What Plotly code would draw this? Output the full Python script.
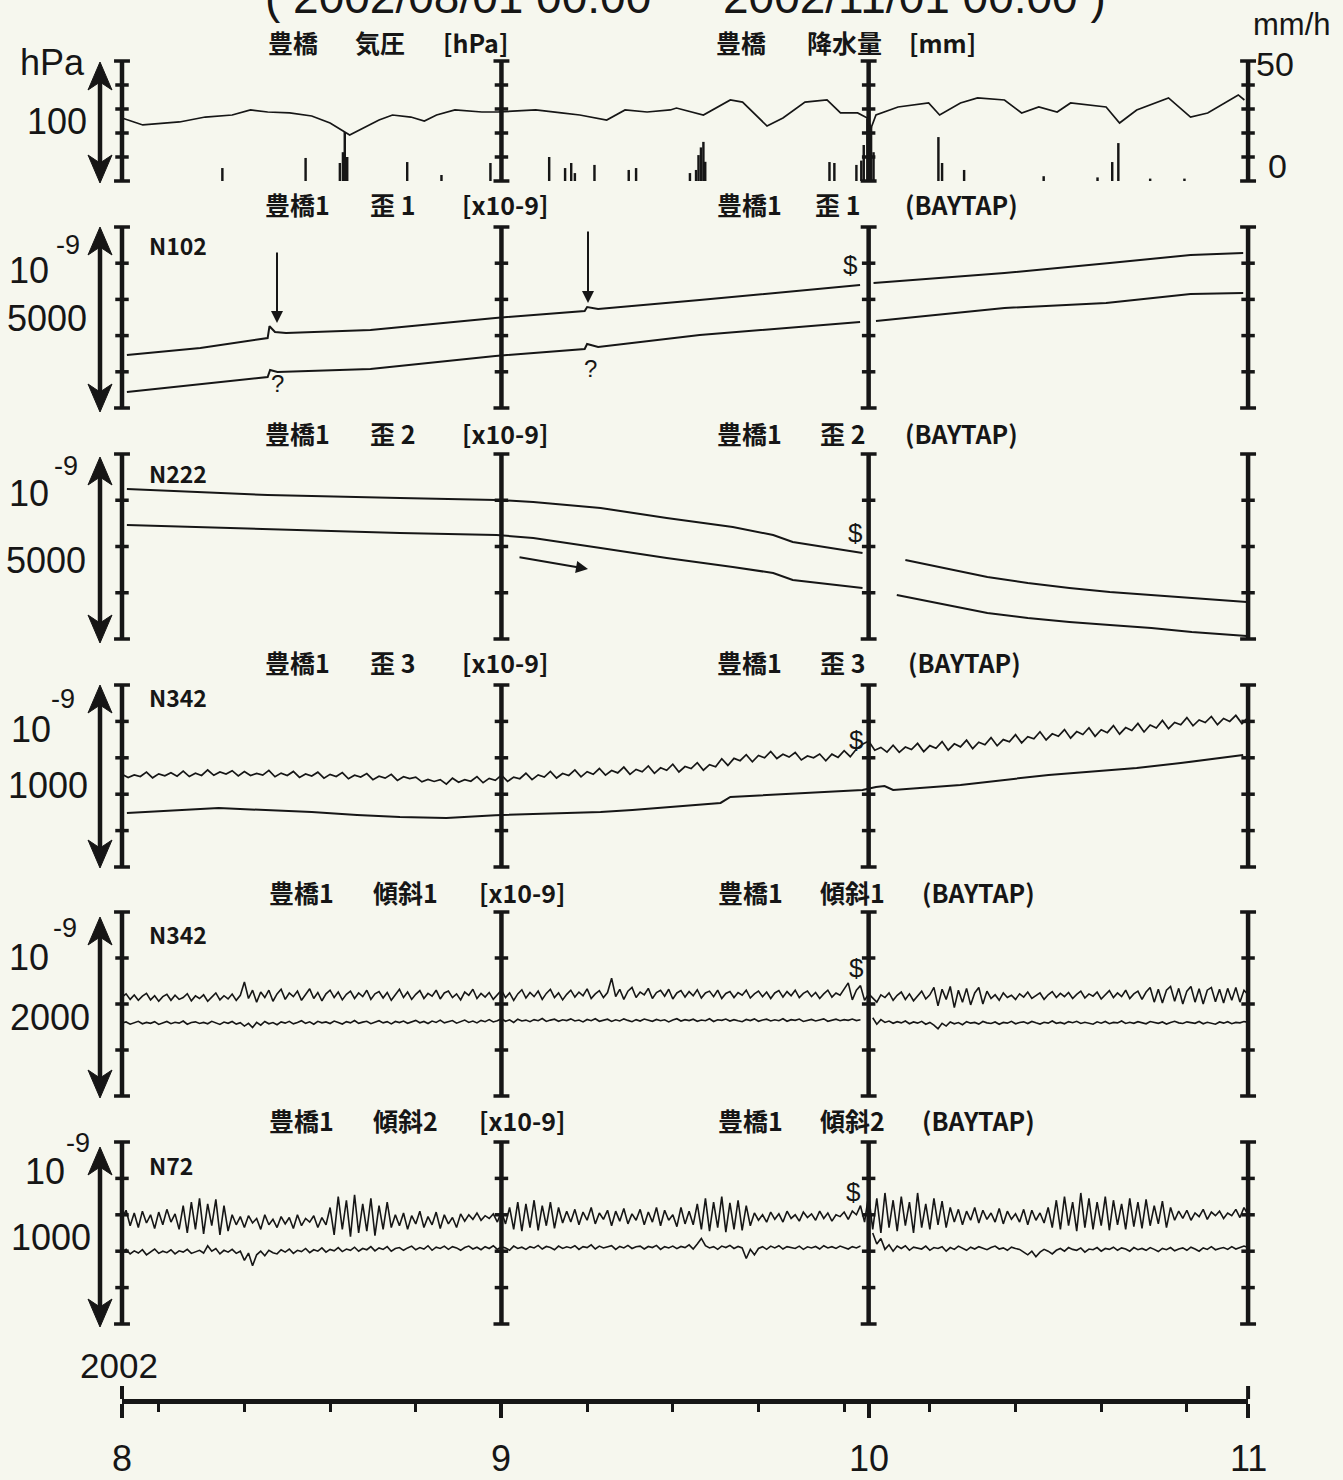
import plotly.graph_objects as go

W, H = 1343, 1480
BG = "#f6f7ee"
INK = "#161616"
LAT = "Liberation Sans, Arial, DejaVu Sans, sans-serif"
CJK = "Noto Sans CJK JP, Noto Sans CJK SC, sans-serif"

# ---------------- time axis (days since 2002-08-01) ----------------
MONTH_DAYS = [0, 31, 61, 92]
MONTH_LABELS = ["8", "9", "10", "11"]
WEEK_DAYS = [3, 10, 17, 24, 38, 45, 52, 59, 66, 73, 80, 87]
YEAR_LABEL = "2002"

# ---------------- panel 1 : pressure [hPa] and rain [mm/h] ----------------
pres_day = [0.0, 1.7, 4.7, 6.8, 9.0, 10.5, 11.9, 13.7, 15.5, 17.0, 18.6, 19.9, 21.0, 22.1,
            23.6, 24.7, 25.7, 27.2, 29.4, 30.7, 33.8, 35.9, 37.4, 39.6, 41.1, 42.9, 44.8,
            45.3, 47.5, 49.7, 50.7, 52.7, 54.0, 55.8, 57.6, 58.7, 60.1, 60.9, 61.2, 61.6,
            63.4, 65.9, 66.8, 68.5, 69.9, 72.1, 73.5, 74.9, 76.4, 77.5, 80.4, 81.5, 82.9,
            85.5, 87.3, 88.7, 90.1, 91.2, 91.7]
pres_hpa = [1002.5, 996.7, 999.2, 1003.3, 1005.0, 1009.2, 1007.5, 1006.7, 1004.2, 998.3,
            988.3, 995.0, 1000.8, 1005.0, 1003.3, 1000.0, 1005.0, 1009.2, 1007.5, 1007.5,
            1009.2, 1006.7, 1005.0, 1000.8, 1009.2, 1007.5, 1009.2, 1010.8, 1005.0, 1017.5,
            1015.8, 995.8, 1002.5, 1015.8, 1017.5, 1006.7, 1006.7, 1002.5, 994.2, 1005.0,
            1011.7, 1015.0, 1005.0, 1015.0, 1019.2, 1017.5, 1006.7, 1011.7, 1007.5, 1015.0,
            1011.7, 998.3, 1009.2, 1019.2, 1003.3, 1006.7, 1015.0, 1021.7, 1017.5]
rain_day = [8.2, 15.0, 17.8, 18.05, 18.2, 18.4, 23.3, 26.1, 30.1, 31.0, 34.9, 36.2, 36.7,
            37.0, 38.6, 41.4, 42.0, 46.4, 46.9, 47.1, 47.3, 47.5, 47.65, 57.8, 58.2, 60.0,
            60.4, 60.6, 60.9, 61.05, 61.2, 61.4, 66.7, 67.0, 68.8, 75.3, 79.7, 80.9, 81.4,
            84.0, 86.8]
rain_mm = [5.4, 9.6, 7.5, 12.0, 20.4, 10.0, 7.9, 2.5, 7.5, 8.0, 10.0, 5.4, 7.5, 3.3, 6.7,
           4.6, 5.4, 3.3, 4.6, 10.8, 14.0, 16.3, 8.0, 7.9, 7.5, 6.7, 8.5, 15.0, 26.0, 18.0,
           22.5, 12.0, 18.3, 7.5, 4.6, 2.0, 1.5, 7.9, 15.8, 1.0, 1.0]

# ---------------- panel 2 : strain 1 [x10-9] ----------------
s1a_day = [0.4, 6.4, 11.9, 12.05, 12.5, 13.4, 20.3, 30.5, 37.8, 38.0, 38.9, 47.2, 60.3,
           61.0, 61.4, 72.1, 80.7, 87.3, 91.6]
s1a_val = [1464, 1657, 1933, 2260, 2100, 2071, 2154, 2486, 2680, 2790, 2734, 2983, 3397,
           None, 3452, 3729, 4005, 4226, 4281]
s1b_day = [0.4, 11.9, 12.1, 12.7, 20.3, 30.5, 37.8, 38.0, 38.9, 47.2, 60.3, 61.0, 61.6,
           72.1, 80.4, 87.3, 91.6]
s1b_val = [442, 856, 1050, 994, 1077, 1436, 1630, 1768, 1685, 2016, 2375, None, 2403,
           2762, 2900, 3149, 3176]

# ---------------- panel 3 : strain 2 [x10-9] ----------------
s2a_day = [0.4, 11.9, 22.7, 30.6, 33.6, 39.1, 44.5, 49.9, 53.2, 54.8, 60.5, 62.0, 64.0,
           67.3, 70.7, 74.0, 77.4, 80.7, 84.1, 87.4, 91.9]
s2a_val = [4055, 3892, 3811, 3757, 3703, 3541, 3271, 3027, 2811, 2622, 2325, None, 2135,
           1919, 1676, 1514, 1379, 1270, 1189, 1108, 1000]
s2b_day = [0.4, 22.7, 30.6, 33.6, 39.1, 44.5, 49.9, 53.2, 54.8, 60.5, 62.0, 63.3, 67.3,
           70.7, 74.0, 77.4, 80.7, 84.1, 87.4, 91.9]
s2b_val = [3081, 2865, 2811, 2730, 2460, 2189, 1946, 1784, 1595, 1378, None, 1189, 919,
           703, 568, 460, 378, 297, 189, 81]

# ---------------- panel 4 : strain 3 [x10-9] ----------------
s3a_val = [510, 492, 506, 497, 521, 490, 512, 501, 518, 499, 527, 497, 515, 503, 533, 504, 522, 511, 529, 500,
           524, 503, 514, 505, 531, 496, 516, 503, 525, 492, 511, 500, 521, 488, 509, 497, 519, 485, 504, 494,
           513, 480, 499, 488, 509, 476, 496, 486, 494, 468, 481, 470, 480, 455, 488, 466, 480, 471, 497, 463,
           487, 476, 505, 470, 494, 485, 515, 480, 506, 494, 525, 489, 514, 503, 533, 495, 524, 509, 541, 505,
           530, 517, 549, 509, 536, 523, 555, 515, 545, 531, 565, 522, 552, 541, 573, 532, 562, 551, 595, 558,
           597, 584, 617, 578, 613, 600, 635, 596, 619, 604, 629, 588, 610, 600, 621, 584, 620, 602, 639, 606,
           648, 675, 692, 642, 657, 631, 669, 630, 659, 645, 679, 634, 667, 652, 689, 642, 677, 660, 697, 650,
           686, 672, 711, 666, 700, 688, 727, 682, 716, 704, 743, 698, 732, 718, 755, 708, 744, 728, 765, 718,
           754, 738, 777, 730, 766, 750, 789, 742, 780, 764, 805, 760, 794, 782, 821, 776, 808, 794, 827, 782,
           816, 800, 833, 788, 822]
s3b_day = [0.4, 7.5, 7.9, 15.5, 19.2, 22.7, 26.5, 30.5, 39.1, 41.7, 47.2, 48.9, 49.7, 55.4,
           60.5, 61.6, 62.3, 63.0, 68.5, 75.7, 82.9, 86.5, 91.6]
s3b_val = [297, 319, 324, 302, 286, 275, 269, 285, 302, 313, 341, 352, 385, 407, 423, 440,
           445, 423, 451, 506, 544, 571, 615]

# ---------------- panel 5 : tilt 1 [x10-9] ----------------
t1a_val = [1076, 1110, 1050, 1098, 1040, 1085, 1115, 1045, 1090, 1030,
           1080, 1105, 1040, 1095, 1050, 1070, 1112, 1035, 1088, 1060,
           1100, 1030, 1075, 1120, 1045, 1090, 1055, 1108, 1040, 1095,
           1240, 1060, 1150, 1020, 1130, 1070, 1150, 1030, 1110, 1160,
           1050, 1120, 1080, 1140, 1040, 1100, 1165, 1060, 1125, 1035,
           1110, 1150, 1070, 1130, 1045, 1105, 1140, 1060, 1120, 1080,
           1150, 1050, 1110, 1135, 1065, 1125, 1040, 1100, 1160, 1070,
           1130, 1050, 1105, 1145, 1060, 1115, 1085, 1150, 1055, 1120,
           1140, 1070, 1110, 1045, 1130, 1095, 1160, 1060, 1115, 1075,
           1125, 1050, 1100, 1150, 1070, 1120, 1040, 1110, 1155, 1065,
           1125, 1080, 1140, 1050, 1115, 1160, 1070, 1120, 1045, 1105,
           1150, 1075, 1130, 1090, 1165, 1060, 1110, 1145, 1070, 1125,
           1280, 1080, 1160, 1050, 1140, 1180, 1070, 1130, 1100, 1170,
           1060, 1125, 1150, 1085, 1160, 1055, 1120, 1145, 1075, 1135,
           1090, 1155, 1065, 1120, 1140, 1080, 1150, 1060, 1115, 1135,
           1070, 1125, 1095, 1150, 1065, 1110, 1140, 1080, 1130, 1060,
           1120, 1145, 1075, 1135, 1090, 1150, 1070, 1115, 1140, 1080,
           1125, 1060, 1110, 1150, 1075, 1120, 1095, 1160, 1230, 1045,
           1150, 1200, 1040, 1110, 1060, 1020, 1100, 1070, 1120, 1040,
           1095, 1130, 1050, 1110, 1035, 1085, 1140, 1055, 1100, 1180,
           980, 1160, 1050, 1190, 960, 1150, 1020, 1170, 990, 1120,
           1180, 1000, 1140, 1060, 1100, 1040, 1120, 1070, 1095, 1050,
           1110, 1075, 1130, 1060, 1090, 1120, 1050, 1100, 1135, 1070,
           1115, 1080, 1125, 1060, 1105, 1140, 1065, 1110, 1085, 1130,
           1055, 1100, 1145, 1070, 1120, 1080, 1150, 1060, 1110, 1140,
           1050, 1130, 1180, 1020, 1160, 1010, 1150, 1190, 1030, 1170,
           1000, 1140, 1190, 1020, 1165, 1000, 1150, 1180, 1025, 1160,
           1010, 1170, 1040, 1180, 1020, 1150, 1100]
t1b_val = [793, 805, 780, 798, 812, 785, 800, 790, 808, 778,
           795, 810, 786, 802, 792, 815, 780, 798, 806, 788,
           800, 785, 812, 795, 778, 804, 790, 810, 782, 797,
           760, 790, 745, 800, 770, 810, 785, 798, 775, 805,
           792, 812, 784, 800, 818, 790, 806, 780, 812, 795,
           805, 788, 815, 798, 782, 808, 795, 820, 790, 803,
           812, 786, 800, 818, 795, 808, 784, 810, 798, 815,
           790, 805, 822, 796, 810, 788, 815, 800, 825, 795,
           808, 820, 792, 812, 826, 800, 815, 795, 822, 808,
           830, 805, 818, 840, 812, 828, 800, 835, 815, 825,
           808, 830, 818, 842, 810, 825, 835, 812, 828, 820,
           838, 815, 826, 805, 832, 818, 840, 812, 825, 835,
           810, 828, 816, 838, 822, 808, 830, 815, 836, 820,
           812, 832, 818, 828, 805, 825, 840, 815, 830, 820,
           835, 812, 826, 818, 840, 810, 828, 822, 836, 815,
           830, 818, 808, 832, 820, 838, 812, 826, 835, 815,
           828, 818, 840, 812, 830, 822, 836, 810, 825, 832,
           815, 828, 838, 812, 826, 835, 818, 830, 822, 836,
           820, 828, None, None, 850, 780, 830, 800, 815, 790,
           808, 795, 815, 785, 805, 792, 812, 780, 800, 770,
           730, 790, 760, 805, 785, 798, 775, 808, 792, 800,
           782, 810, 795, 788, 805, 780, 800, 792, 812, 785,
           798, 806, 788, 810, 795, 782, 802, 792, 815, 790,
           800, 785, 808, 796, 812, 788, 802, 795, 780, 806,
           792, 810, 786, 800, 795, 815, 788, 802, 790, 808,
           796, 785, 810, 798, 790, 805, 782, 800, 812, 795,
           788, 806, 798, 790, 810, 785, 802, 795, 780, 805,
           792, 808, 786, 800, 795, 810, 800]

# ---------------- panel 6 : tilt 2 [x10-9] ----------------
t2a_val = [580, 625, 540, 610, 530, 620, 555, 600, 525, 615,
           545, 630, 560, 605, 520, 650, 500, 670, 520, 690,
           495, 660, 540, 685, 490, 650, 510, 600, 545, 590,
           530, 595, 555, 580, 520, 600, 545, 575, 530, 590,
           550, 585, 525, 600, 540, 580, 560, 595, 530, 585,
           545, 640, 490, 700, 520, 680, 480, 710, 500, 660,
           510, 690, 485, 650, 520, 670, 530, 600, 540, 610,
           520, 595, 550, 620, 530, 590, 545, 615, 525, 600,
           550, 585, 530, 605, 565, 600, 575, 610, 570, 595,
           580, 605, 560, 620, 550, 640, 520, 670, 510, 660,
           530, 680, 515, 650, 540, 670, 525, 640, 555, 620,
           560, 630, 545, 615, 570, 640, 550, 610, 575, 625,
           540, 620, 565, 635, 550, 605, 570, 630, 545, 615,
           560, 640, 540, 625, 570, 600, 535, 640, 550, 620,
           545, 660, 520, 690, 510, 670, 530, 700, 505, 665,
           520, 680, 515, 650, 540, 610, 570, 600, 560, 615,
           575, 605, 560, 620, 580, 600, 565, 615, 585, 605,
           570, 620, 580, 610, 565, 600, 590, 615, 575, 620,
           600, 650, 560, 710, 520, 690, 500, 720, 530, 680,
           510, 700, 540, 670, 500, 720, 530, 660, 520, 690,
           545, 675, 530, 640, 560, 630, 545, 620, 570, 640,
           555, 625, 575, 610, 560, 635, 550, 620, 575, 605,
           560, 630, 545, 625, 570, 610, 555, 640, 530, 680,
           520, 700, 540, 670, 510, 720, 530, 690, 520, 670,
           540, 700, 515, 680, 545, 660, 520, 690, 535, 670,
           525, 685, 540, 650, 550, 675, 530, 640, 570, 620,
           580, 625, 570, 610, 590, 630, 575, 615, 595, 620,
           580, 610, 595, 630, 585, 640, 600]
t2b_val = [395, 410, 385, 402, 390, 408, 380, 398, 412, 388,
           400, 392, 408, 385, 402, 395, 410, 388, 398, 405,
           390, 430, 400, 415, 385, 405, 395, 410, 388, 400,
           350, 390, 320, 380, 400, 375, 405, 392, 385, 408,
           395, 412, 388, 405, 398, 415, 392, 408, 400, 418,
           395, 410, 402, 420, 398, 412, 405, 422, 400, 415,
           408, 425, 402, 418, 410, 425, 400, 415, 420, 405,
           418, 428, 408, 420, 412, 430, 405, 422, 415, 428,
           410, 425, 418, 405, 420, 428, 412, 422, 408, 425,
           415, 430, 410, 425, 418, 405, 428, 415, 422, 410,
           425, 418, 432, 412, 426, 420, 408, 428, 415, 424,
           418, 430, 410, 425, 420, 435, 412, 428, 418, 422,
           430, 410, 426, 418, 432, 415, 424, 428, 412, 426,
           420, 432, 410, 425, 418, 428, 414, 426, 420, 435,
           412, 440, 470, 430, 418, 425, 410, 428, 420, 432,
           415, 426, 418, 360, 410, 380, 415, 425, 410, 428,
           418, 430, 412, 425, 420, 415, 428, 410, 424, 418,
           426, 412, 430, 418, 425, 415, 428, 420, 412, 425,
           418, 428, None, None, 500, 440, 470, 410, 435, 400,
           428, 415, 430, 405, 422, 418, 412, 428, 405, 420,
           415, 425, 400, 420, 410, 428, 415, 405, 422, 412,
           425, 415, 408, 420, 428, 412, 418, 405, 422, 415,
           410, 395, 380, 400, 370, 395, 410, 400, 385, 405,
           415, 400, 420, 410, 405, 418, 395, 412, 408, 420,
           400, 415, 410, 422, 405, 418, 412, 400, 420, 408,
           415, 405, 420, 410, 398, 415, 408, 420, 402, 412,
           418, 405, 422, 412, 400, 418, 410, 425, 408, 415,
           420, 410, 425, 412, 418, 428, 420]


# sampling times of the densely sampled traces
def grid(n, per_day):
    return [k / per_day for k in range(n)]


# ---------------- page geometry ----------------
X0, PXD = 122.0, 12.24          # pixel of day 0, pixels per day


def PX(px):
    return px / W


def PY(py):
    return 1 - py / H


PAD = 8
panels = [  # top px, bottom px, value at bottom, value at top, tick values
    dict(T=61, B=181, lo=950, hi=1050, ticks=[950, 970, 990, 1010, 1030, 1050]),
    dict(T=227, B=408, lo=0, hi=5000, ticks=[0, 1000, 2000, 3000, 4000, 5000]),
    dict(T=454, B=639, lo=0, hi=5000, ticks=[0, 1250, 2500, 3750, 5000]),
    dict(T=685, B=867, lo=0, hi=1000, ticks=[0, 200, 400, 600, 800, 1000]),
    dict(T=912, B=1096, lo=0, hi=2000, ticks=[0, 500, 1000, 1500, 2000]),
    dict(T=1142, B=1324, lo=0, hi=1000, ticks=[0, 200, 400, 600, 800, 1000]),
]

fig = go.Figure()
layout = dict(
    width=W, height=H, autosize=False,
    margin=dict(l=0, r=0, t=0, b=0),
    paper_bgcolor=BG, plot_bgcolor="rgba(0,0,0,0)",
    showlegend=False,
    xaxis=dict(domain=[0, 1], range=[-X0 / PXD, (W - X0) / PXD], visible=False,
               fixedrange=True),
)
shapes = []
annotations = []

for i, p in enumerate(panels):
    k = (p["hi"] - p["lo"]) / (p["B"] - p["T"])
    name = "yaxis" if i == 0 else f"yaxis{i + 1}"
    layout[name] = dict(domain=[PY(p["B"] + PAD), PY(p["T"] - PAD)],
                        range=[p["lo"] - PAD * k, p["hi"] + PAD * k],
                        visible=False, fixedrange=True, anchor="x")
    yref = "y" if i == 0 else f"y{i + 1}"
    for d in MONTH_DAYS:
        shapes.append(dict(type="line", xref="x", yref=yref, x0=d, x1=d,
                           y0=p["lo"], y1=p["hi"], line=dict(color=INK, width=4.5)))
        for t in p["ticks"]:
            hw = 0.65 if t in (p["lo"], p["hi"]) else 0.55
            shapes.append(dict(type="line", xref="x", yref=yref, x0=d - hw, x1=d + hw,
                               y0=t, y1=t, line=dict(color=INK, width=3.5)))

# rain axis overlays panel 1
p1 = panels[0]
kr = 50 / (p1["B"] - p1["T"])
layout["yaxis7"] = dict(overlaying="y", range=[0 - PAD * kr, 50 + PAD * kr],
                        visible=False, fixedrange=True, anchor="x")
# bottom time axis
layout["yaxis8"] = dict(domain=[PY(1399), PY(1392)], range=[0, 1], visible=False,
                        fixedrange=True)
layout["xaxis2"] = dict(domain=[PX(X0), PX(X0 + 92 * PXD)], range=[0, 92], anchor="y8",
                        showline=True, linecolor=INK, linewidth=4.5, showgrid=False,
                        zeroline=False, ticks="outside", tickmode="array",
                        tickvals=MONTH_DAYS, ticklen=14, tickwidth=4, tickcolor=INK,
                        showticklabels=False, fixedrange=True,
                        minor=dict(tickmode="array", tickvals=WEEK_DAYS, ticks="outside",
                                   ticklen=8, tickwidth=3, tickcolor=INK, showgrid=False))
for d in (MONTH_DAYS[0], MONTH_DAYS[-1]):
    shapes.append(dict(type="line", xref="x", yref="paper", x0=d, x1=d,
                       y0=PY(1386), y1=PY(1399), line=dict(color=INK, width=4)))

fig.add_trace(go.Scatter(x=[0], y=[0.5], xaxis="x2", yaxis="y8", mode="markers",
                         marker=dict(opacity=0), hoverinfo="skip"))


def line(x, y, yref, w=2.0):
    fig.add_trace(go.Scatter(x=x, y=y, xaxis="x", yaxis=yref, mode="lines",
                             line=dict(color=INK, width=w), connectgaps=False,
                             hoverinfo="skip"))


fig.add_trace(go.Bar(x=rain_day, y=rain_mm, xaxis="x", yaxis="y7", width=0.2,
                     marker=dict(color=INK, line=dict(width=0)), hoverinfo="skip"))
line(pres_day, pres_hpa, "y", 1.7)
line(s1a_day, s1a_val, "y2")
line(s1b_day, s1b_val, "y2")
line(s2a_day, s2a_val, "y3")
line(s2b_day, s2b_val, "y3")
line(grid(len(s3a_val), 2), s3a_val, "y4", 1.7)
line(s3b_day, s3b_val, "y4")
line(grid(len(t1a_val), 3), t1a_val, "y5", 1.6)
line(grid(len(t1b_val), 3), t1b_val, "y5", 1.6)
line(grid(len(t2a_val), 3), t2a_val, "y6", 1.6)
line(grid(len(t2b_val), 3), t2b_val, "y6", 1.6)

# ---------------- left double arrows ----------------
arrow_spans = [(62, 183), (227, 412), (457, 643), (685, 868), (917, 1098), (1147, 1327)]
AX = 100
for T, B in arrow_spans:
    hw, hh, ins = 12, 28, 20
    shapes.append(dict(type="line", xref="paper", yref="paper", x0=PX(AX), x1=PX(AX),
                       y0=PY(T + ins), y1=PY(B - ins), line=dict(color=INK, width=4.5)))
    for tip, s in ((T, 1), (B, -1)):
        path = (f"M{PX(AX)},{PY(tip)} L{PX(AX - hw)},{PY(tip + s * hh)} "
                f"L{PX(AX)},{PY(tip + s * ins)} L{PX(AX + hw)},{PY(tip + s * hh)} Z")
        shapes.append(dict(type="path", xref="paper", yref="paper", path=path,
                           fillcolor=INK, line=dict(color=INK, width=1)))


def txt(s, px, py, size, family=LAT, anchor="center", weight="normal"):
    annotations.append(dict(text=s, x=PX(px), y=PY(py), xref="paper", yref="paper",
                            xanchor=anchor, yanchor="middle", showarrow=False,
                            font=dict(family=family, size=size, color=INK, weight=weight)))


# title (cut off at the top of the page, as in the scan)
txt("( 2002/08/01 00:00", 263, -3, 46, anchor="left")
txt("2002/11/01 00:00 )", 721, -3, 46, anchor="left")

# panel titles
TY = [42, 204, 433, 662, 892, 1120]
titles = [
    (["豊橋", "気圧", "[hPa]"], [293, 380, 475], ["豊橋", "降水量", "[mm]"], [741, 845, 942]),
    (["豊橋1", "歪 1", "[x10-9]"], [297, 392, 505], ["豊橋1", "歪 1", "(BAYTAP)"], [749, 838, 962]),
    (["豊橋1", "歪 2", "[x10-9]"], [297, 392, 505], ["豊橋1", "歪 2", "(BAYTAP)"], [749, 842, 962]),
    (["豊橋1", "歪 3", "[x10-9]"], [297, 392, 505], ["豊橋1", "歪 3", "(BAYTAP)"], [749, 842, 964]),
    (["豊橋1", "傾斜1", "[x10-9]"], [301, 406, 522], ["豊橋1", "傾斜1", "(BAYTAP)"], [750, 852, 978]),
    (["豊橋1", "傾斜2", "[x10-9]"], [301, 406, 522], ["豊橋1", "傾斜2", "(BAYTAP)"], [750, 852, 978]),
]
for ty, (lw, lx, rw, rx) in zip(TY, titles):
    for w_, x_ in zip(lw + rw, lx + rx):
        txt(w_, x_, ty, 25, family=CJK, weight="bold")

# station codes
for s, py in [("N102", 245), ("N222", 473), ("N342", 697), ("N342", 934), ("N72", 1165)]:
    txt(s, 147, py, 23, family=CJK, anchor="left", weight="bold")

# left scale labels
txt("hPa", 52, 62, 36)
txt("100", 57, 121, 36)
for ten, nine, val, tx in [((29, 271), (68, 245), (47, 319), "5000"),
                           ((29, 493), (66, 466), (46, 560), "5000"),
                           ((31, 729), (63, 699), (48, 785), "1000"),
                           ((29, 957), (65, 928), (50, 1017), "2000"),
                           ((45, 1171), (78, 1143), (51, 1237), "1000")]:
    txt("10", ten[0], ten[1], 36)
    txt("-9", nine[0], nine[1], 27)
    txt(tx, val[0], val[1], 36)

# right rain scale
txt("mm/h", 1292, 25, 31)
txt("50", 1275, 64, 34)
txt("0", 1277, 166, 34)

# markers in plots
txt("?", 277, 383, 24)
txt("?", 590, 368, 24)
for px_, py_ in [(851, 265), (855, 533), (856, 740), (856, 968), (853, 1192)]:
    txt("$", px_, py_, 26)

# annotation arrows
for xh, yh, dx, dy in [(277, 323, 0, -72), (588, 303, 0, -73), (588, 569, -70, -12)]:
    annotations.append(dict(x=PX(xh), y=PY(yh), xref="paper", yref="paper", text="",
                            showarrow=True, ax=dx, ay=dy, arrowhead=2, arrowsize=1.2,
                            arrowwidth=2, arrowcolor=INK))

# bottom axis labels
txt(YEAR_LABEL, 119, 1365, 35)
for d, lab in zip(MONTH_DAYS, MONTH_LABELS):
    annotations.append(dict(text=lab, x=d, y=PY(1458), xref="x", yref="paper",
                            xanchor="center", yanchor="middle", showarrow=False,
                            font=dict(family=LAT, size=36, color=INK)))

layout["shapes"] = shapes
layout["annotations"] = annotations
fig.update_layout(**layout)

fig.write_html("out.html", config={"displayModeBar": False, "staticPlot": True},
               post_script="document.body.style.margin='0';document.body.style.background='" + BG + "';")
